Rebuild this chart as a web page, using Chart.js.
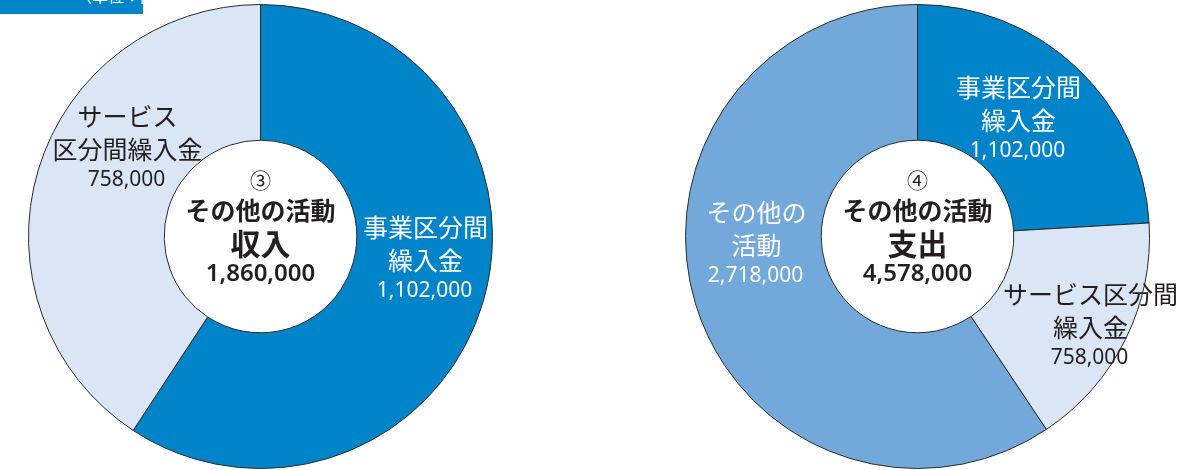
<!DOCTYPE html>
<html lang="ja">
<head>
<meta charset="utf-8">
<script src="https://cdn.jsdelivr.net/npm/chart.js@4/dist/chart.umd.min.js"></script>
<style>
  html, body { margin: 0; padding: 0; background: #fff; }
  body { width: 1179px; height: 470px; position: relative; overflow: hidden; font-family: "Noto Sans CJK JP", sans-serif; }
  .tag { position: absolute; left: 0; top: 0; width: 143px; height: 14px; background: #0084c9; overflow: hidden; }
  .tag span { position: absolute; left: 76px; top: -15px; color: #fff; font-size: 16px; line-height: 20px; white-space: nowrap; }
  .box { position: absolute; top: 0; width: 520px; height: 470px; }
</style>
</head>
<body>
<div class="tag"><span>（単位：円）</span></div>
<div class="box" style="left:0px"><canvas id="incomeChart" width="520" height="470"></canvas></div>
<div class="box" style="left:659px"><canvas id="expenseChart" width="520" height="470"></canvas></div>
<script>
// ③ その他の活動収入
const incomeLabels = [['事業区分間', '繰入金'], ['サービス', '区分間繰入金']];
const incomeValues = [1102000, 758000];
const incomeColors = ['#0084c9', '#dae6f5'];

// ④ その他の活動支出
const expenseLabels = [['事業区分間', '繰入金'], ['サービス区分間', '繰入金'], ['その他の', '活動']];
const expenseValues = [1102000, 758000, 2718000];
const expenseColors = ['#0084c9', '#dae6f5', '#73a9da'];

const DARK = '#231f20';
const FONT = '"Noto Sans CJK JP", sans-serif';
const NUMFONT = '"Noto Sans", "Noto Sans CJK JP", sans-serif';

function fmt(n) {
  return n.toLocaleString('en-US');
}

// label anchor offsets from the doughnut centre, per slice
const incomeLabelPos = [{ dx: 165, dy: -9, color: '#fff' }, { dx: -133, dy: -120, color: DARK }];
const expenseLabelPos = [
  { dx: 101, dy: -149, color: '#fff' },
  { dx: 173, dy: 58, color: DARK },
  { dx: -161, dy: -24, color: '#fff' }
];

const sliceLabels = {
  id: 'sliceLabels',
  afterDatasetsDraw(chart, args, opts) {
    const ctx = chart.ctx;
    const arc = chart.getDatasetMeta(0).data[0];
    const cx = arc.x, cy = arc.y;
    const values = chart.data.datasets[0].data;
    ctx.save();
    ctx.textAlign = 'center';
    ctx.textBaseline = 'middle';
    opts.lines.forEach((lines, i) => {
      const p = opts.pos[i];
      ctx.fillStyle = p.color;
      ctx.font = '400 25px ' + FONT;
      lines.forEach((t, j) => ctx.fillText(t, cx + p.dx, cy + p.dy + j * 33));
      ctx.font = '400 21px ' + NUMFONT;
      ctx.fillText(fmt(values[i]), cx + p.dx - 1, cy + p.dy + lines.length * 33 - 2);
    });

    // centre text
    ctx.fillStyle = DARK;
    ctx.font = '400 21px ' + FONT;
    ctx.fillText(opts.mark, cx, cy - 56);
    ctx.font = '700 25px ' + FONT;
    ctx.fillText('その他の活動', cx, cy - 26);
    ctx.font = '700 30px ' + FONT;
    ctx.fillText(opts.title, cx, cy + 7);
    ctx.font = '600 24px ' + NUMFONT;
    ctx.fillText(fmt(values.reduce((a, b) => a + b, 0)), cx, cy + 38);
    ctx.restore();
  }
};

function makeChart(id, labels, values, colors, pos, mark, title, padL) {
  return new Chart(document.getElementById(id).getContext('2d'), {
    type: 'doughnut',
    data: {
      labels: labels.map(l => l.join('')),
      datasets: [{
        data: values,
        backgroundColor: colors,
        borderColor: '#2b2b2b',
        borderWidth: 1
      }]
    },
    options: {
      responsive: false,
      animation: false,
      cutout: '41.5%',
      layout: { padding: { left: padL, right: 520 - 465 - padL, top: 4, bottom: 1 } },
      plugins: {
        legend: { display: false },
        tooltip: { enabled: false },
        sliceLabels: { lines: labels, pos: pos, mark: mark, title: title }
      }
    },
    plugins: [sliceLabels]
  });
}

makeChart('incomeChart', incomeLabels, incomeValues, incomeColors, incomeLabelPos, '③', '収入', 28);
makeChart('expenseChart', expenseLabels, expenseValues, expenseColors, expenseLabelPos, '④', '支出', 26);
</script>
</body>
</html>
